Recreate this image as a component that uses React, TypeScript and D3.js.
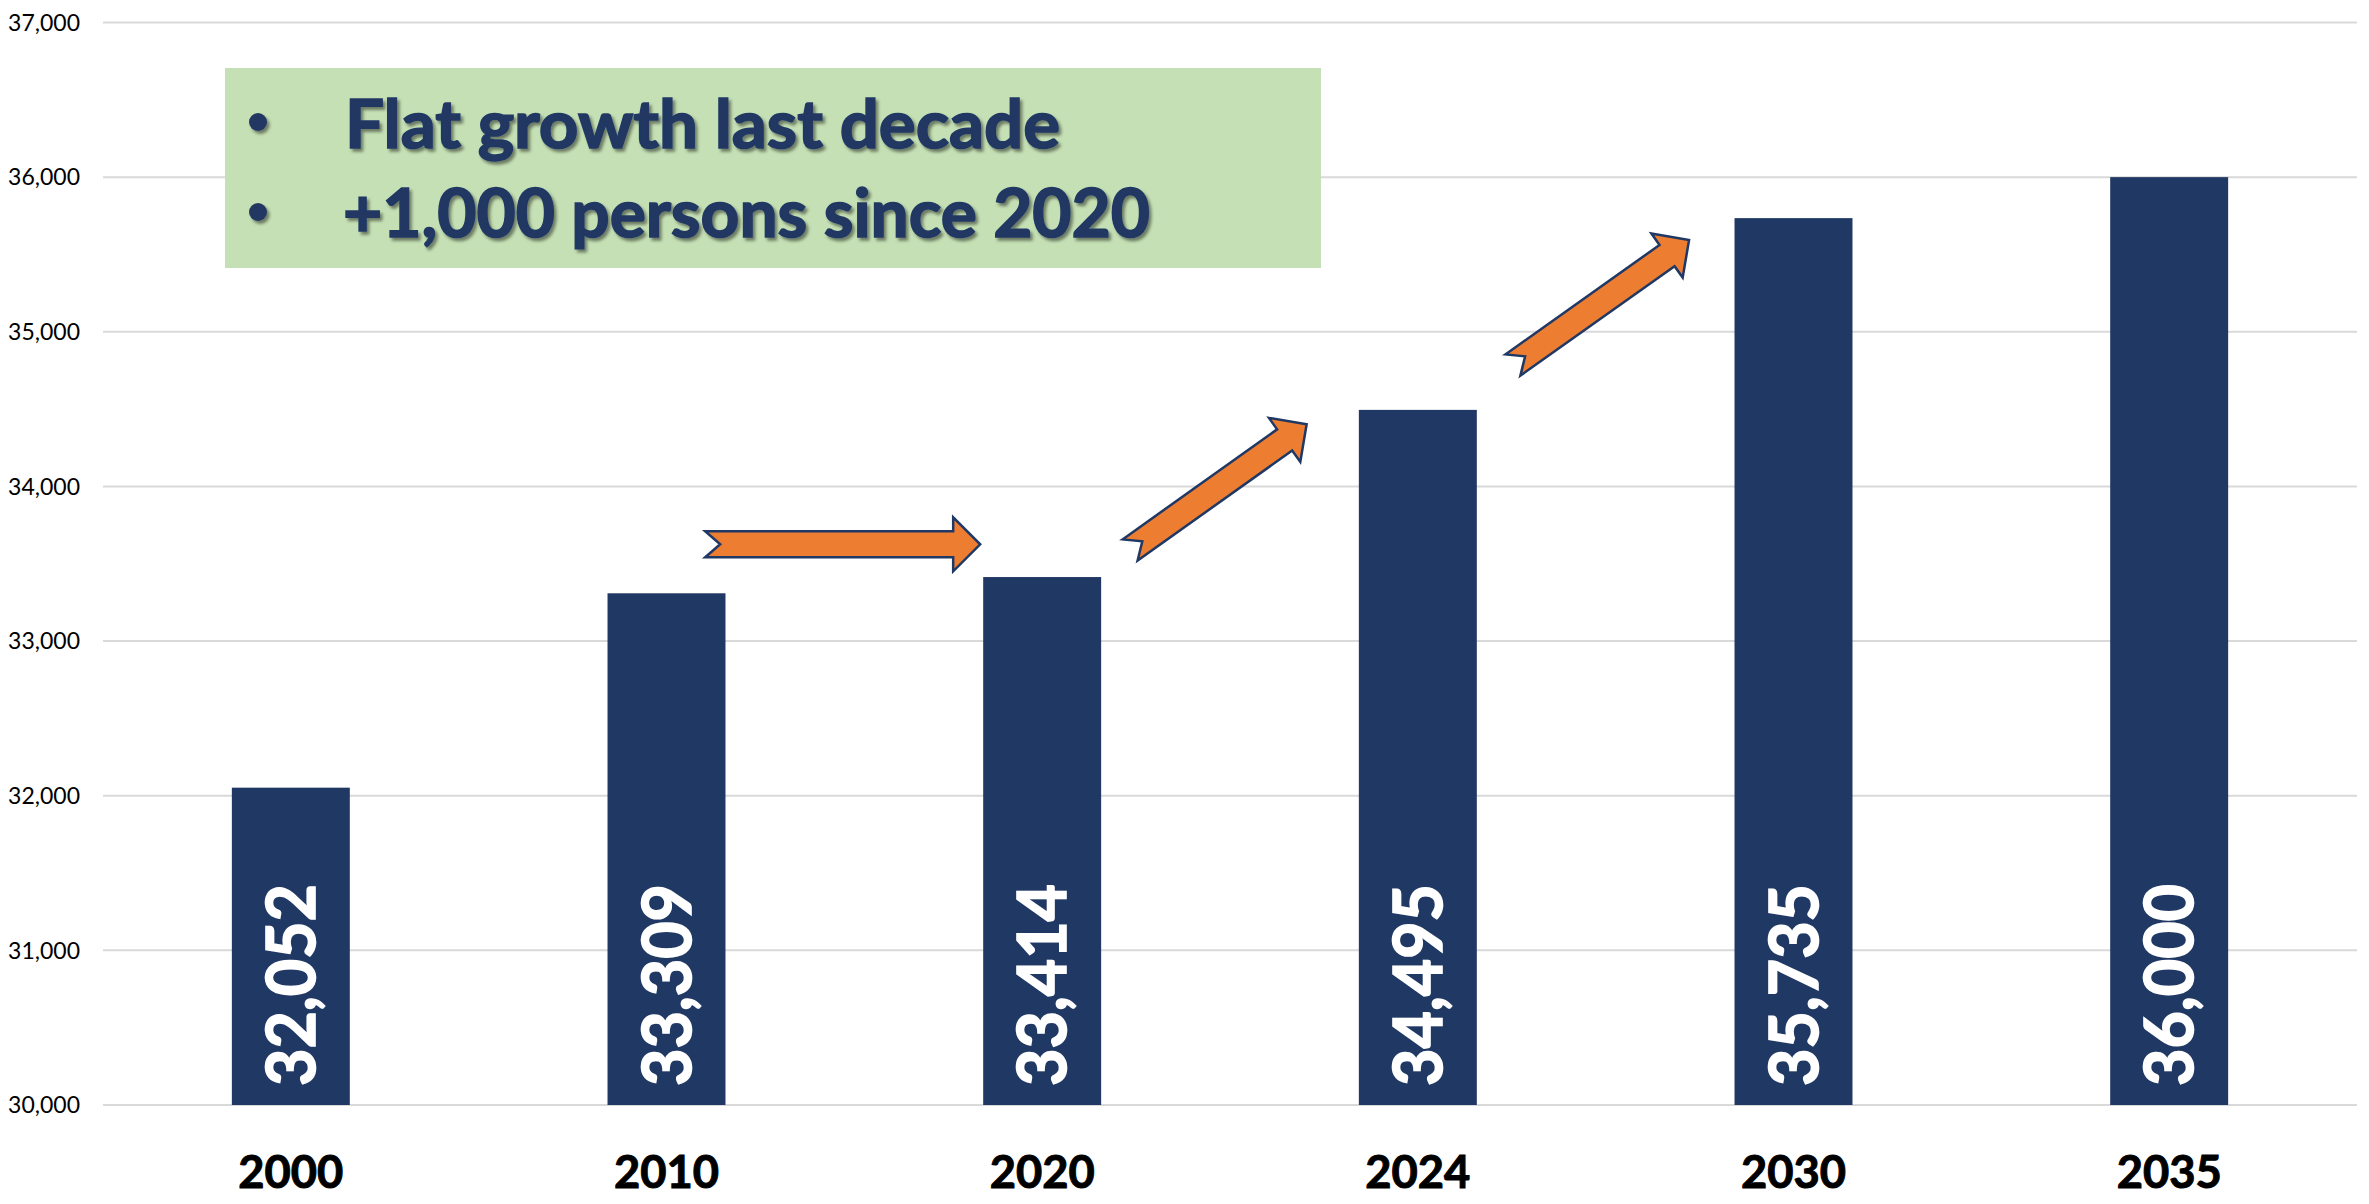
import React from "react";
import * as d3 from "d3";

const years = ["2000", "2010", "2020", "2024", "2030", "2035"];
const population = [32052, 33309, 33414, 34495, 35735, 36000];
const yTicks = [30000, 31000, 32000, 33000, 34000, 35000, 36000, 37000];
const bulletLines = ["Flat growth last decade", "+1,000 persons since 2020"];
// arrows: tail/tip as [category index position, value]
const arrowTails: [number, number][] = [[1.103, 33626], [2.234, 33589], [3.253, 34785]];
const arrowTips: [number, number][] = [[1.835, 33626], [2.704, 34402], [3.722, 35594]];

const W = 2369;
const H = 1204;
const NAVY = "#203864";
const FONT = "Lato, 'Open Sans', 'DejaVu Sans', sans-serif";

export default function App() {
  const x = d3.scaleBand<string>().domain(years).range([103, 2357]).padding(0);
  const y = d3.scaleLinear().domain([30000, 37000]).range([1105, 22.5]);
  const barW = x.bandwidth() * 0.314;
  const cx = (i: number) => (x(years[0]) as number) + x.bandwidth() / 2 + i * x.step();
  const fmt = d3.format(",");

  const arrowPath = (L: number) => {
    const sh = 13, hh = 27, hl = 27, notch = 15;
    return `M0,${-sh} L${L - hl},${-sh} L${L - hl},${-hh} L${L},0 L${L - hl},${hh} L${L - hl},${sh} L0,${sh} L${notch},0 Z`;
  };

  return (
    <div style={{ position: "absolute", left: 0, top: 0, width: W, height: H, background: "#fff" }}>
      <svg width={W} height={H} style={{ display: "block" }}>
        <defs>
          <filter id="tshadow" x="-5%" y="-20%" width="110%" height="150%">
            <feDropShadow dx="2.5" dy="3" stdDeviation="1.6" floodColor="#000" floodOpacity="0.45" />
          </filter>
        </defs>
        {/* gridlines */}
        {yTicks.map((t) => (
          <line key={"g" + t} x1={103} x2={2357} y1={y(t)} y2={y(t)} stroke="#d9d9d9" strokeWidth={2} />
        ))}
        {/* y tick labels */}
        {yTicks.map((t) => (
          <text key={"t" + t} x={80} y={y(t)} dy="0.36em" textAnchor="end" fontFamily={FONT} fontSize={23} fill="#000">
            {fmt(t)}
          </text>
        ))}
        {/* bars */}
        {years.map((yr, i) => (
          <rect key={"b" + yr} x={cx(i) - barW / 2} y={y(population[i])} width={barW} height={y(30000) - y(population[i])} fill={NAVY} />
        ))}
        {/* bar labels */}
        {years.map((yr, i) => (
          <text
            key={"l" + yr}
            transform={`translate(${cx(i) + 24},${y(30000) - 19}) rotate(-90)`}
            fontFamily={FONT}
            fontWeight={700}
            fontSize={66}
            fill="#fff"
            stroke="#fff"
            strokeWidth={1.6}
            textLength={202}
            lengthAdjust="spacingAndGlyphs"
          >
            {fmt(population[i])}
          </text>
        ))}
        {/* x labels */}
        {years.map((yr, i) => (
          <text key={"x" + yr} x={cx(i)} y={1188} textAnchor="middle" fontFamily={FONT} fontWeight={700} fontSize={45} fill="#000" stroke="#000" strokeWidth={1} textLength={105} lengthAdjust="spacingAndGlyphs">
            {yr}
          </text>
        ))}
        {/* arrows */}
        {arrowTails.map((tail, k) => {
          const tip = arrowTips[k];
          const x0 = cx(0) + tail[0] * x.step();
          const y0 = y(tail[1]);
          const x1 = cx(0) + tip[0] * x.step();
          const y1 = y(tip[1]);
          const L = Math.hypot(x1 - x0, y1 - y0);
          const ang = (Math.atan2(y1 - y0, x1 - x0) * 180) / Math.PI;
          return (
            <path
              key={"a" + k}
              d={arrowPath(L)}
              transform={`translate(${x0},${y0}) rotate(${ang})`}
              fill="#ED7D31"
              stroke={NAVY}
              strokeWidth={2.5}
              strokeLinejoin="miter"
            />
          );
        })}
        {/* text box */}
        <rect x={225} y={68} width={1096} height={200} fill="#C5E0B4" />
        {bulletLines.map((s, i) => (
          <g key={"bl" + i} filter="url(#tshadow)">
            <circle cx={258} cy={122 + i * 90} r={9} fill={NAVY} />
            <text
              x={i === 0 ? 345 : 343}
              y={147.5 + i * 89.2}
              fontFamily={FONT}
              fontWeight={700}
              fontSize={66}
              fill={NAVY}
              stroke={NAVY}
              strokeWidth={1.6}
              textLength={i === 0 ? 715 : 807}
              lengthAdjust="spacingAndGlyphs"
            >
              {s}
            </text>
          </g>
        ))}
      </svg>
    </div>
  );
}
